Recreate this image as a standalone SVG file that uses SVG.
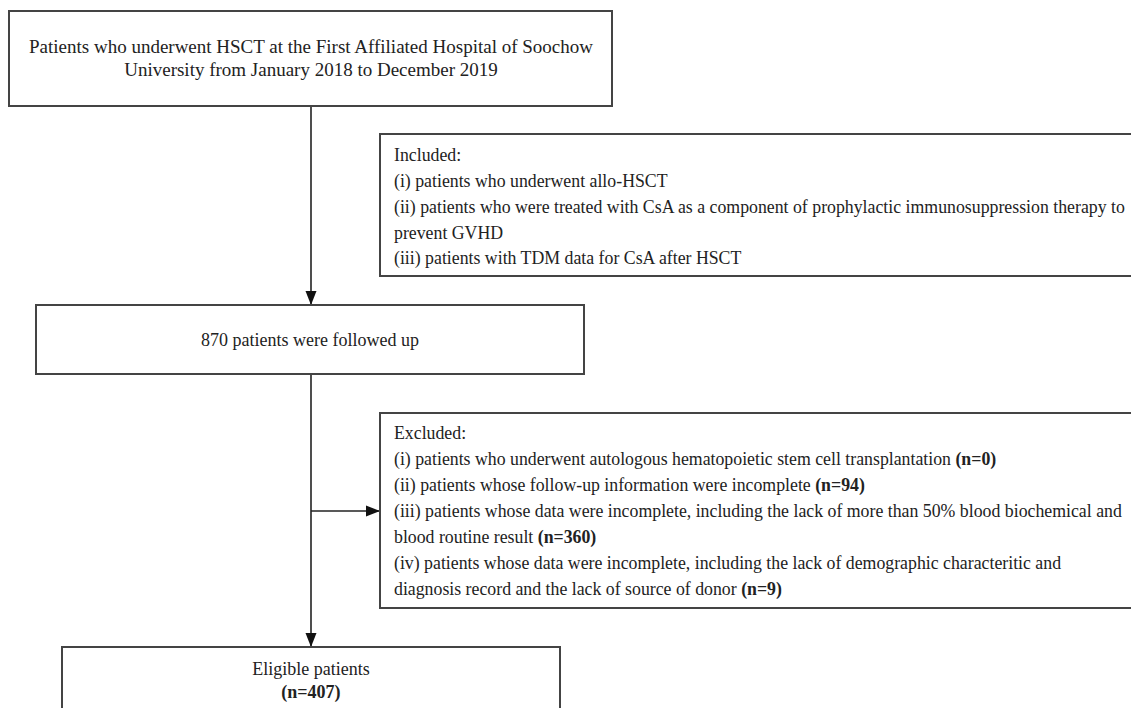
<svg xmlns="http://www.w3.org/2000/svg" width="1131" height="708" viewBox="0 0 1131 708">
<style>
  .box { fill: #ffffff; stroke: #444444; stroke-width: 2; }
  .t { font-family: "Liberation Serif", "Times New Roman", serif; fill: #222222; }
  .c { text-anchor: middle; }
  .b { font-weight: bold; }
  .conn { stroke: #222222; stroke-width: 1.6; fill: none; }
</style>
<defs>
  <marker id="arr" markerUnits="userSpaceOnUse" markerWidth="16" markerHeight="12" refX="14" refY="6" orient="auto">
    <path d="M0,0.5 L14,6 L0,11.5 Z" fill="#111111"/>
  </marker>
</defs>
<rect width="1131" height="708" fill="#ffffff"/>
<g id="connectors">
  <line class="conn" x1="311" y1="106" x2="311" y2="305" marker-end="url(#arr)"/>
  <line class="conn" x1="311" y1="374" x2="311" y2="647" marker-end="url(#arr)"/>
  <line class="conn" x1="311" y1="511" x2="380" y2="511" marker-end="url(#arr)"/>
</g>
<g id="node-source">
  <rect class="box" x="9" y="11" width="603" height="95"/>
  <text class="t c" x="311" y="53" font-size="19">Patients who underwent HSCT at the First Affiliated Hospital of Soochow</text>
  <text class="t c" x="311" y="76" font-size="19">University from January 2018 to December 2019</text>
</g>
<g id="node-included">
  <rect class="box" x="380" y="134" width="760" height="142"/>
  <g class="t" font-size="17.8">
    <text x="394" y="161">Included:</text>
    <text x="394" y="187">(i) patients who underwent allo-HSCT</text>
    <text x="394" y="213">(ii) patients who were treated with CsA as a component of prophylactic immunosuppression therapy to</text>
    <text x="394" y="239">prevent GVHD</text>
    <text x="394" y="264">(iii) patients with TDM data for CsA after HSCT</text>
  </g>
</g>
<g id="node-followed">
  <rect class="box" x="36" y="305" width="548" height="69"/>
  <text class="t c" x="310" y="346" font-size="18">870 patients were followed up</text>
</g>
<g id="node-excluded">
  <rect class="box" x="380" y="413" width="760" height="195"/>
  <g class="t" font-size="17.8">
    <text x="394" y="439">Excluded:</text>
    <text x="394" y="465">(i) patients who underwent autologous hematopoietic stem cell transplantation <tspan class="b">(n=0)</tspan></text>
    <text x="394" y="491">(ii) patients whose follow-up information were incomplete <tspan class="b">(n=94)</tspan></text>
    <text x="394" y="517">(iii) patients whose data were incomplete, including the lack of more than 50% blood biochemical and</text>
    <text x="394" y="543">blood routine result <tspan class="b">(n=360)</tspan></text>
    <text x="394" y="569">(iv) patients whose data were incomplete, including the lack of demographic characteritic and</text>
    <text x="394" y="595">diagnosis record and the lack of source of donor <tspan class="b">(n=9)</tspan></text>
  </g>
</g>
<g id="node-eligible">
  <rect class="box" x="62" y="647" width="498" height="80"/>
  <text class="t c" x="311" y="675" font-size="18">Eligible patients</text>
  <text class="t c b" x="311" y="698" font-size="18">(n=407)</text>
</g>
</svg>
